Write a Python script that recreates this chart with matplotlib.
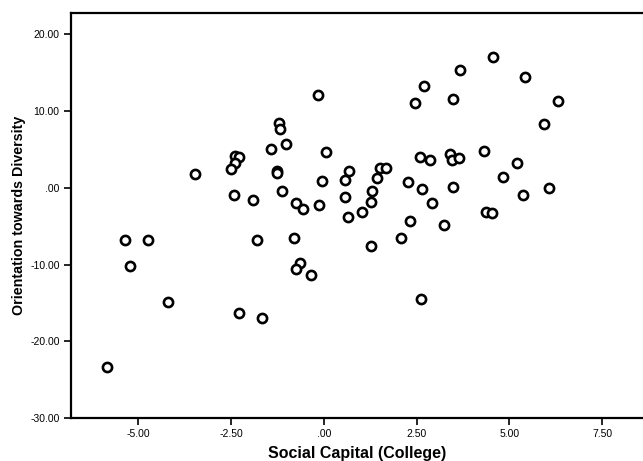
import matplotlib.pyplot as plt
from matplotlib.ticker import FixedLocator

plt.rcParams['font.family'] = ['Liberation Sans', 'DejaVu Sans']

# social capital (college) vs orientation towards diversity
social_capital = [
    -5.36, -4.74, -5.21, -4.20, -5.83, -1.80, -0.81, -0.65, -0.76, -0.34, -2.28, -1.67,
    -3.46, -0.17, -1.20, -1.19, -1.02, -1.43, -2.39, -2.28, -2.39, -2.51, -1.27, -1.25,
    -0.05, 0.07, -2.43, -1.91, -1.14, -0.74, -0.57, -0.13,
    4.56, 3.66, 2.70, 5.43, 2.45, 3.49, 6.31, 5.94, 2.59, 2.85, 3.40, 3.46, 3.65, 4.31,
    5.21, 0.67, 1.52, 1.67, 0.57, 1.44, 2.26, 2.65, 3.48, 4.82, 1.29, 0.56, 1.27, 2.91,
    5.38, 6.06, 0.65, 1.02, 2.31, 3.23, 4.37, 4.53,
    1.27, 2.08, 2.63,
]
diversity = [
    -6.77, -6.77, -10.16, -14.88, -23.4, -6.77, -6.51, -9.80, -10.59, -11.29, -16.3, -16.9,
    1.78, 12.07, 8.42, 7.64, 5.77, 5.12, 4.21, 4.04, 3.29, 2.51, 2.21, 1.91,
    0.87, 4.65, -0.95, -1.60, -0.39, -1.99, -2.70, -2.21,
    17.06, 15.36, 13.32, 14.41, 11.11, 11.59, 11.33, 8.33, 4.04, 3.65, 4.43, 3.61, 3.87, 4.86,
    3.22, 2.25, 2.57, 2.57, 1.00, 1.30, 0.74, -0.17, 0.09, 1.43, -0.35, -1.17, -1.78, -1.99,
    -0.87, 0.04, -3.78, -3.16, -4.30, -4.82, -3.16, -3.29,
    -7.51, -6.55, -14.5,
]

x_ticks = [-5.0, -2.5, 0.0, 2.5, 5.0, 7.5]
x_tick_labels = ["-5.00", "-2.50", ".00", "2.50", "5.00", "7.50"]
y_ticks = [-30, -20, -10, 0, 10, 20]
y_tick_labels = ["-30.00", "-20.00", "-10.00", ".00", "10.00", "20.00"]

fig = plt.figure(figsize=(6.43, 4.61), dpi=100)
ax = fig.add_axes([0.110, 0.093, 0.890, 0.879])

ax.plot(social_capital, diversity, linestyle="none", marker="o",
        markersize=6.6, markerfacecolor="white", markeredgecolor="black",
        markeredgewidth=1.9)

ax.set_xlim(-6.82, 8.6)
ax.set_ylim(-30, 22.8)

ax.xaxis.set_major_locator(FixedLocator(x_ticks))
ax.set_xticklabels(x_tick_labels)
ax.yaxis.set_major_locator(FixedLocator(y_ticks))
ax.set_yticklabels(y_tick_labels)
ax.tick_params(direction="out", length=5, width=1.2, labelsize=7.5, pad=3)

for side in ["left", "bottom", "top"]:
    ax.spines[side].set_linewidth(1.6)
ax.spines["right"].set_visible(False)

ax.set_xlabel("Social Capital (College)", fontsize=11.5, fontweight="bold", labelpad=5)
ax.set_ylabel("Orientation towards Diversity", fontsize=10.3, fontweight="bold", labelpad=3)

fig.savefig("out.png", dpi=100)
